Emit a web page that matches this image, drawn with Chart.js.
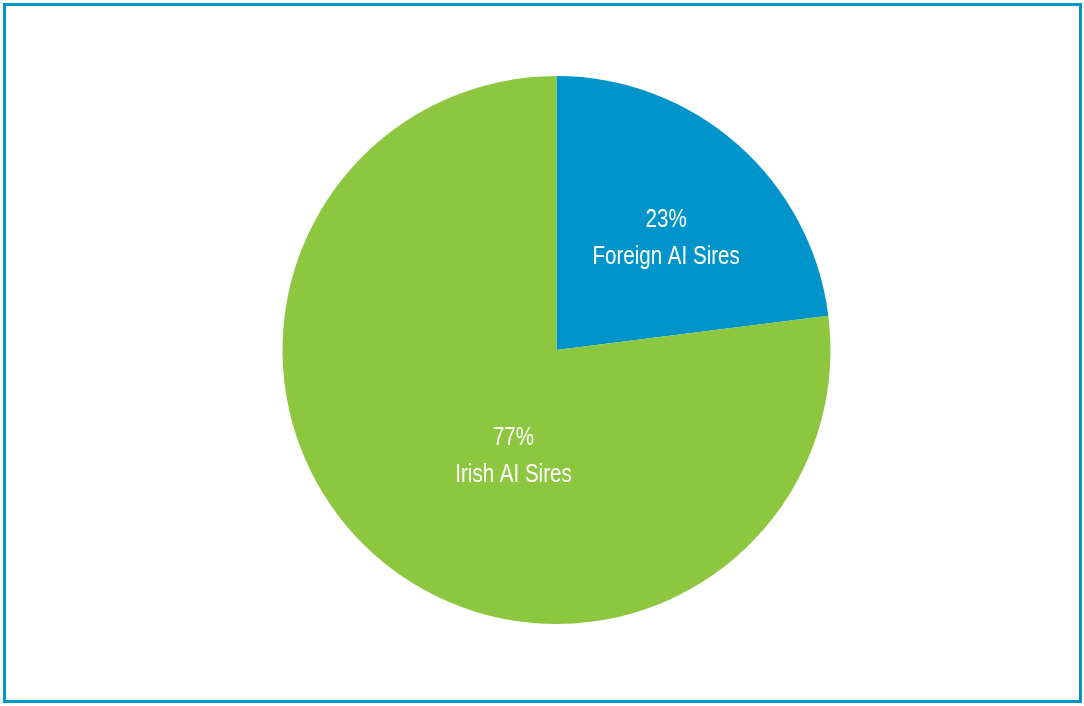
<!DOCTYPE html>
<html>
<head>
<meta charset="utf-8">
<script src="https://cdn.jsdelivr.net/npm/chart.js@4/dist/chart.umd.min.js"></script>
<style>
html,body{margin:0;padding:0;background:#fff;}
#wrap{position:relative;width:1084px;height:706px;}
#frame{position:absolute;left:3px;top:3px;width:1073px;height:694px;border:3px solid #0094C9;pointer-events:none;}
canvas{position:absolute;left:0;top:0;}
</style>
</head>
<body>
<div id="wrap">
<canvas id="c" width="1084" height="706"></canvas>
<div id="frame"></div>
</div>
<script>
const categories = ["Foreign AI Sires", "Irish AI Sires"];
const values = [23, 77];
const percentLabels = ["23%", "77%"];
const colors = ["#0094CA", "#8DC63F"];
// label anchor offsets relative to pie centre, as fraction of radius
const labelOffsets = [[0.40, -0.415], [-0.157, 0.38]];

const labelPlugin = {
  id: 'sliceLabels',
  afterDatasetsDraw(chart) {
    const ctx = chart.ctx;
    const meta = chart.getDatasetMeta(0);
    const sx = 0.79;
    ctx.save();
    ctx.fillStyle = '#ffffff';
    ctx.textAlign = 'center';
    ctx.textBaseline = 'alphabetic';
    ctx.font = '26px "Liberation Sans", Arial, sans-serif';
    meta.data.forEach((arc, i) => {
      const r = arc.outerRadius;
      const cx = arc.x + labelOffsets[i][0] * r;
      const cy = arc.y + labelOffsets[i][1] * r;
      ctx.save();
      ctx.translate(cx, cy);
      ctx.scale(sx, 1);
      ctx.fillText(percentLabels[i], 0, -9);
      ctx.fillText(categories[i], 0, 28);
      ctx.restore();
    });
    ctx.restore();
  }
};

new Chart(document.getElementById('c'), {
  type: 'pie',
  data: {
    labels: categories,
    datasets: [{
      data: values,
      backgroundColor: colors,
      borderWidth: 0
    }]
  },
  options: {
    responsive: false,
    animation: false,
    layout: { padding: { left: 29, right: 0, top: 76, bottom: 82 } },
    plugins: { legend: { display: false }, tooltip: { enabled: false } }
  },
  plugins: [labelPlugin]
});
</script>
</body>
</html>
